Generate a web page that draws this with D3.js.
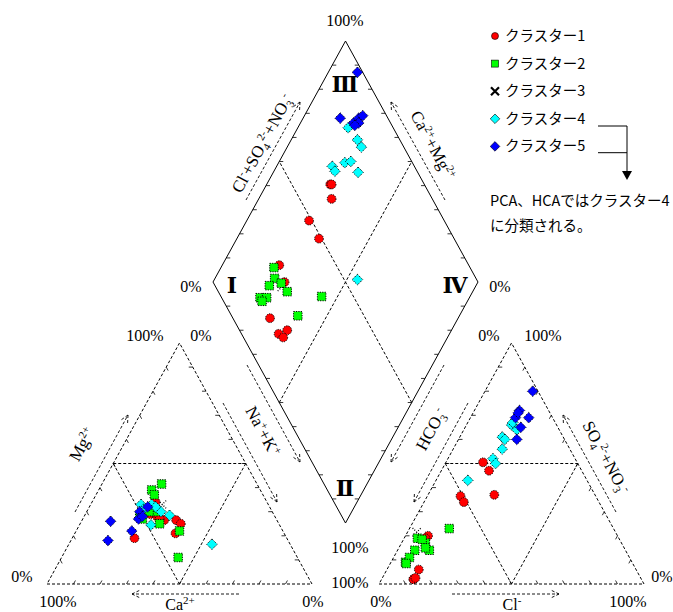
<!DOCTYPE html>
<html lang="ja">
<head>
<meta charset="utf-8">
<title>Piper diagram</title>
<script src="https://cdn.jsdelivr.net/npm/d3@7/dist/d3.min.js"></script>
<style>
body { margin: 0; background: #fff; }
svg { display: block; }
</style>
</head>
<body>
<script>
// legend names
var clusterNames = ["クラスター1", "クラスター2", "クラスター3", "クラスター4", "クラスター5"];

// one row per sample: [Ca, Mg, Na+K, HCO3, Cl, SO4+NO3]  (meq %)
var cluster1 = [
  [42, 34, 24, 35.5, 14, 50.5],
  [46.5, 29, 24.5, 35, 18, 47],
  [44.5, 28, 27.5, 38, 25, 37],
  [57.5, 19, 23.5, 51, 12.5, 36.5],
  [42.5, 26.5, 31, 51, 15, 34],
  [47.5, 31, 21.5, 71.5, 8.5, 20],
  [44, 29, 27, 73, 8, 19],
  [44, 27, 29, 86, 12, 2],
  [38, 26.5, 35.5, 86, 12, 2],
  [37, 25, 38, 82, 12, 6],
  [41, 21, 38, 85, 12.5, 2.5]
];
var cluster2 = [
  [41, 39, 20, 74, 9, 17],
  [36, 41.5, 22.5, 76, 5, 19],
  [41, 37, 22, 79.5, 6.5, 14],
  [44, 30, 26, 74.5, 7, 18.5],
  [45, 25, 30, 74, 12, 14],
  [51, 28, 21, 85.5, 5.5, 9],
  [46.5, 30, 23.5, 83, 6, 11],
  [50.5, 27, 22.5, 85.5, 6, 8.5],
  [45, 11, 44, 62, 15, 23],
  [39, 22, 39, 75, 10, 15]
];
var cluster3 = [
  [40, 33, 27, 75, 3.5, 21.5]
];
var cluster4 = [
  [48, 33, 19, 17, 17, 66],
  [43, 32, 25, 16, 20, 64],
  [42, 30, 28, 16, 17, 67],
  [48, 31, 21, 31, 17, 52],
  [44, 33, 23, 31, 19, 50],
  [43, 32, 25, 25.5, 18.5, 56],
  [48.5, 24.5, 27, 23, 16, 61],
  [39.5, 28.5, 32, 22.5, 17.5, 60],
  [29.5, 16.5, 54, 45, 12, 43]
];
var cluster5 = [
  [63, 26, 11, 2, 18, 80],
  [68, 18, 14, 18, 22, 60],
  [50, 30, 20, 14, 17, 69],
  [52, 27, 21, 11, 17, 72],
  [46, 32, 22, 9, 22, 69],
  [50, 28, 22, 12, 17, 71],
  [57, 22, 21, 14, 21, 65]
];

var w = 673, h = 612;
var serif = "'Liberation Serif', 'Times New Roman', serif";
var jfont = "'Noto Sans CJK JP', sans-serif";

var svg = d3.select("body").append("svg")
  .attr("width", w).attr("height", h);

// ternary units: triangle side = 100
var H = Math.sqrt(3) / 2, GAP = 25.3;
var x = d3.scaleLinear().domain([0, 200 + GAP]).range([47, 644]);
var y = d3.scaleLinear().domain([0, 100 * H]).range([584, 343]);
var B = [100 + GAP / 2, GAP / 2 * Math.sqrt(3)];   // bottom of diamond

function catXY(ca, mg, nak) {
  var s = ca + mg + nak;
  mg = mg / s * 100; nak = nak / s * 100;
  return [x(nak + mg / 2), y(mg * H)];
}
function anXY(hco3, cl, so4) {
  var s = hco3 + cl + so4;
  cl = cl / s * 100; so4 = so4 / s * 100;
  return [x(100 + GAP + cl + so4 / 2), y(so4 * H)];
}
function diaXY(camg, clso4) {
  return [x(B[0] + (clso4 - camg) / 2), y(B[1] + (camg + clso4) * H)];
}
function diaOf(r) {
  var camg = (r[0] + r[1]) / (r[0] + r[1] + r[2]) * 100;
  var clso4 = (r[4] + r[5]) / (r[3] + r[4] + r[5]) * 100;
  return diaXY(camg, clso4);
}

var frame = svg.append("g").attr("fill", "none").attr("stroke", "#000");

function seg(p, q, dashed, sw) {
  frame.append("line")
    .attr("x1", p[0]).attr("y1", p[1]).attr("x2", q[0]).attr("y2", q[1])
    .attr("stroke-width", sw || 1)
    .attr("stroke-dasharray", dashed ? "3,2" : null);
}
function unit(p, q) {
  var dx = q[0] - p[0], dy = q[1] - p[1], l = Math.sqrt(dx * dx + dy * dy);
  return [dx / l, dy / l];
}
function tick(p, d, len) {
  seg(p, [p[0] + d[0] * len, p[1] + d[1] * len], false, 0.8);
}

// cation triangle
var cA = catXY(100, 0, 0), cB = catXY(0, 0, 100), cT = catXY(0, 100, 0);
seg(cA, cB, true); seg(cB, cT, true); seg(cT, cA, true);
seg(catXY(50, 50, 0), catXY(0, 50, 50), true);
seg(catXY(50, 50, 0), catXY(50, 0, 50), true);
seg(catXY(0, 50, 50), catXY(50, 0, 50), true);

// anion triangle
var aA = anXY(100, 0, 0), aB = anXY(0, 100, 0), aT = anXY(0, 0, 100);
seg(aA, aB, true); seg(aB, aT, true); seg(aT, aA, true);
seg(anXY(50, 0, 50), anXY(0, 50, 50), true);
seg(anXY(50, 0, 50), anXY(50, 50, 0), true);
seg(anXY(0, 50, 50), anXY(50, 50, 0), true);

// diamond
var dB = diaXY(0, 0), dL = diaXY(100, 0), dT = diaXY(100, 100), dR = diaXY(0, 100);
seg(dB, dL, false); seg(dL, dT, false); seg(dT, dR, false); seg(dR, dB, false);
seg(diaXY(50, 0), diaXY(50, 100), true);
seg(diaXY(0, 50), diaXY(100, 50), true);

// ticks every 10 %
var upLeftEdge = unit(cA, cT), downRight = unit(cT, cB);
d3.range(10, 100, 10).forEach(function (k) {
  tick(catXY(100 - k, 0, k), upLeftEdge, 4);
  tick(catXY(0, k, 100 - k), [-1, 0], 4);
  tick(catXY(100 - k, k, 0), downRight, 4);
  tick(anXY(100 - k, k, 0), unit(aB, aT), 4);
  tick(anXY(0, 100 - k, k), unit(aT, aA), 4);
  tick(anXY(100 - k, 0, k), [1, 0], 4);
  tick(diaXY(100, k), [1, 0], 4);
  tick(diaXY(k, 100), [-1, 0], 4);
  tick(diaXY(k, 0), [1, 0], 4);
  tick(diaXY(0, k), [-1, 0], 4);
});

// dashed direction arrows
function arrow(p, q) {
  seg(p, q, true, 0.9);
  var d = unit(q, p), a = 0.45, L = 8;
  [a, -a].forEach(function (t) {
    var c = Math.cos(t), s = Math.sin(t);
    var v = [d[0] * c - d[1] * s, d[0] * s + d[1] * c];
    seg(q, [q[0] + v[0] * L, q[1] + v[1] * L], true, 0.9);
  });
}
arrow([246, 200], [300, 102]);
arrow([445, 200], [391, 102]);
arrow([247, 365], [300, 462]);
arrow([223, 403], [277, 502]);
arrow([444, 365], [391, 462]);
arrow([468, 403], [414, 502]);
arrow([75, 512], [128, 415]);
arrow([616, 512], [563, 415]);
arrow([239, 594], [132, 594]);
arrow([452, 594], [559, 594]);

// rich axis labels
function richLabel(px, py, rot, parts, size) {
  var t = svg.append("text")
    .attr("transform", "translate(" + px + "," + py + ") rotate(" + rot + ")")
    .attr("text-anchor", "middle")
    .attr("font-family", serif).attr("font-size", size || 17);
  var shift = 0;
  parts.forEach(function (p) {
    var target = p[1] === "sup" ? -6 : p[1] === "sub" ? 4 : 0;
    t.append("tspan")
      .attr("dy", target - shift)
      .attr("font-size", p[1] === "n" ? (size || 17) : 11)
      .text(p[0]);
    shift = target;
  });
}
richLabel(267, 146, -61.5, [["Cl", "n"], ["-", "sup"], ["+SO", "n"], ["4", "sub"], ["2-", "sup"], ["+NO", "n"], ["3", "sub"], ["-", "sup"]]);
richLabel(428, 148, 61.5, [["Ca", "n"], ["2+", "sup"], ["+Mg", "n"], ["2+", "sup"]]);
richLabel(258, 434, 61.5, [["Na", "n"], ["+", "sup"], ["+K", "n"], ["+", "sup"]]);
richLabel(436, 432, -61.5, [["HCO", "n"], ["3", "sub"], ["-", "sup"]]);
richLabel(87, 447, -61.5, [["Mg", "n"], ["2+", "sup"]]);
richLabel(601, 460, 61.5, [["SO", "n"], ["4", "sub"], ["2-", "sup"], ["+NO", "n"], ["3", "sub"], ["-", "sup"]]);
richLabel(180, 610, 0, [["Ca", "n"], ["2+", "sup"]], 16);
richLabel(512, 610, 0, [["Cl", "n"], ["-", "sup"]], 16);

// percent labels
var pct = [
  ["100%", 345, 26], ["0%", 191, 292], ["0%", 500, 292],
  ["100%", 145, 341], ["0%", 201, 341], ["0%", 489, 341], ["100%", 543, 341],
  ["0%", 22, 582], ["100%", 58, 607], ["0%", 313, 607],
  ["100%", 350, 553], ["100%", 350, 588],
  ["0%", 381, 607], ["100%", 628, 607], ["0%", 662, 582]
];
svg.selectAll("text.pct").data(pct).enter().append("text")
  .attr("class", "pct")
  .attr("x", function (d) { return d[1]; })
  .attr("y", function (d) { return d[2]; })
  .attr("text-anchor", "middle")
  .attr("font-family", serif).attr("font-size", 16)
  .text(function (d) { return d[0]; });

// zone numerals
var zones = [["Ⅲ", 345, 92], ["Ⅰ", 232, 293], ["Ⅳ", 455, 293], ["Ⅱ", 345, 496]];
svg.selectAll("text.zone").data(zones).enter().append("text")
  .attr("class", "zone")
  .attr("x", function (d) { return d[1]; })
  .attr("y", function (d) { return d[2]; })
  .attr("text-anchor", "middle")
  .attr("font-family", "'DejaVu Serif', serif").attr("font-weight", "bold")
  .attr("font-size", 22)
  .text(function (d) { return d[0]; });

// markers
function marker(g, shape, color, legend) {
  var m;
  if (shape === "circle") {
    m = g.append("circle").attr("r", legend ? 3.5 : 4.4);
  } else if (shape === "square") {
    var s = legend ? 7 : 8.5;
    m = g.append("rect").attr("x", -s / 2).attr("y", -s / 2).attr("width", s).attr("height", s);
  } else if (shape === "diamond") {
    var r = legend ? 4.8 : 5.3;
    m = g.append("path").attr("d", "M0," + (-r) + "L" + r + ",0L0," + r + "L" + (-r) + ",0Z");
  } else {
    var c = legend ? 4 : 4.2;
    return g.append("path").attr("d", "M" + (-c) + "," + (-c) + "L" + c + "," + c + "M" + (-c) + "," + c + "L" + c + "," + (-c))
      .attr("stroke", "#000").attr("stroke-width", legend ? 2.2 : 1.3)
      .attr("stroke-dasharray", legend ? null : "1,1.6").attr("fill", "none");
  }
  m.attr("fill", color).attr("stroke", "#000")
    .attr("stroke-width", legend ? 0.6 : 1)
    .attr("stroke-dasharray", legend ? null : "1.2,1.2");
  return m;
}

var clusterData = [cluster1, cluster2, cluster3, cluster4, cluster5];
var colors = ["#ff0000", "#00ff00", "#000000", "#00ffff", "#0000ff"];
var shapes = ["circle", "square", "cross", "diamond", "diamond"];
var drawOrder = [2, 0, 1, 3, 4];

var pts = svg.append("g");
drawOrder.forEach(function (ci) {
  clusterData[ci].forEach(function (r) {
    [catXY(r[0], r[1], r[2]), anXY(r[3], r[4], r[5]), diaOf(r)].forEach(function (p) {
      var g = pts.append("g").attr("transform", "translate(" + p[0] + "," + p[1] + ")");
      marker(g, shapes[ci], colors[ci], false);
    });
  });
});

// legend
var leg = svg.append("g");
clusterNames.forEach(function (name, i) {
  var yy = 36 + i * 27.6;
  var g = leg.append("g").attr("transform", "translate(495," + yy + ")");
  marker(g, shapes[i], colors[i], true);
  leg.append("text").attr("x", 505).attr("y", yy + 5)
    .attr("font-family", jfont).attr("font-size", 14.5)
    .text(name);
});
leg.append("path")
  .attr("d", "M598,126H627M598,152.7H627M627,126V172")
  .attr("fill", "none").attr("stroke", "#000").attr("stroke-width", 1);
leg.append("path").attr("d", "M622,171L632,171L627,180Z").attr("fill", "#000");
leg.append("text").attr("x", 490).attr("y", 206)
  .attr("font-family", jfont).attr("font-size", 14.5)
  .text("PCA、HCAではクラスター4");
leg.append("text").attr("x", 490).attr("y", 231)
  .attr("font-family", jfont).attr("font-size", 14.5)
  .text("に分類される。");
</script>
</body>
</html>
